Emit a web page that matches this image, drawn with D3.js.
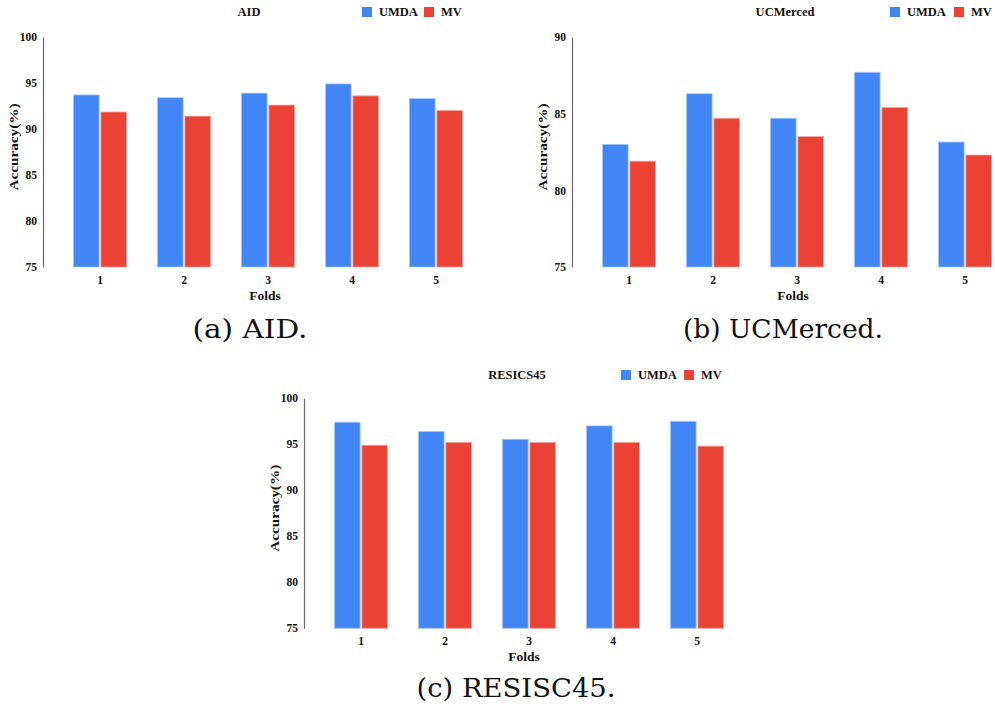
<!DOCTYPE html>
<html>
<head>
<meta charset="utf-8">
<script src="https://cdn.jsdelivr.net/npm/d3@7"></script>
<style>
  body { margin: 0; background: #fff; }
  svg text { font-family: "Liberation Serif", "Times New Roman", serif; }
</style>
</head>
<body>
<svg id="fig" width="995" height="711"></svg>
<script>
// data
var folds = ["1", "2", "3", "4", "5"];
var seriesNames = ["UMDA", "MV"];

var aidUMDA = [93.7, 93.4, 93.9, 94.9, 93.3];
var aidMV   = [91.85, 91.4, 92.6, 93.6, 92.0];

var ucmUMDA = [83.0, 86.3, 84.7, 87.7, 83.15];
var ucmMV   = [81.9, 84.7, 83.5, 85.4, 82.3];

var resUMDA = [97.4, 96.4, 95.55, 97.0, 97.5];
var resMV   = [94.9, 95.2, 95.2, 95.2, 94.8];

var ticksAID = [75, 80, 85, 90, 95, 100];
var ticksUCM = [75, 80, 85, 90];
var ticksRES = [75, 80, 85, 90, 95, 100];

var colors = { UMDA: "#4285f4", MV: "#ea4335" };
var edges  = { UMDA: "#a9c6fa", MV: "#f4a39c" };

var svg = d3.select("#fig");

// one chart panel
function panel(o, umda, mv, ticks) {
    var g = svg.append("g");
    var y = d3.scaleLinear()
        .domain([ticks[0], ticks[ticks.length - 1]])
        .range([o.bottom, o.top]);
    var x = d3.scaleBand().domain(folds).range([o.x0, o.x1]).padding(0);
    var sub = d3.scaleBand().domain(seriesNames)
        .range([15.5, x.bandwidth() - 15.5]).paddingInner(0.064);

    var rows = folds.map(function(f, i){
        return { fold: f, vals: [{ s: "UMDA", v: umda[i] }, { s: "MV", v: mv[i] }] };
    });

    g.selectAll("g.fold")
        .data(rows)
        .enter()
            .append("g")
            .attr("class", "fold")
            .attr("transform", function(d){ return "translate(" + x(d.fold) + ",0)"; })
        .selectAll("rect")
        .data(function(d){ return d.vals; })
        .enter()
            .append("rect")
            .attr("x", function(d){ return sub(d.s); })
            .attr("width", sub.bandwidth())
            .attr("y", function(d){ return y(d.v); })
            .attr("height", function(d){ return y(ticks[0]) - y(d.v); })
            .style("fill", function(d){ return colors[d.s]; })
            .style("stroke", function(d){ return edges[d.s]; })
            .style("stroke-width", 0.8);

    // y axis: just the line and labels
    var ya = g.append("g")
        .attr("transform", "translate(" + o.axisX + ",0)")
        .call(d3.axisLeft(y).tickValues(ticks).tickSize(0).tickPadding(6));
    ya.select(".domain").attr("stroke", "#666").attr("stroke-width", 1.2);
    ya.selectAll("text")
        .style("font-family", "Liberation Serif")
        .style("font-weight", "bold")
        .style("font-size", "11.5px")
        .attr("fill", "#111");

    // x labels
    var xa = g.append("g")
        .attr("transform", "translate(0," + o.bottom + ")")
        .call(d3.axisBottom(x).tickSize(0).tickPadding(9));
    xa.select(".domain").remove();
    xa.selectAll("text")
        .style("font-family", "Liberation Serif")
        .style("font-weight", "bold")
        .style("font-size", "11.5px")
        .attr("fill", "#111");

    g.append("text")
        .attr("x", o.foldsX).attr("y", o.bottom + 33)
        .attr("text-anchor", "middle")
        .style("font-weight", "bold").style("font-size", "13.5px")
        .attr("fill", "#111")
        .text("Folds");

    g.append("text")
        .attr("transform", "translate(" + (o.axisX - 25) + "," + ((o.top + o.bottom) / 2 - 5) + ") rotate(-90)")
        .attr("text-anchor", "middle")
        .attr("textLength", 87).attr("lengthAdjust", "spacingAndGlyphs")
        .style("font-weight", "bold").style("font-size", "13px")
        .attr("fill", "#111")
        .text("Accuracy(%)");

    // title + legend
    g.append("text")
        .attr("x", o.titleX).attr("y", o.titleY)
        .attr("text-anchor", "middle")
        .style("font-weight", "bold").style("font-size", "12.5px")
        .attr("fill", "#111")
        .text(o.title);

    var leg = g.selectAll("g.leg")
        .data(seriesNames)
        .enter()
            .append("g")
            .attr("transform", function(d, i){ return "translate(" + o.legX[i] + "," + (o.titleY - 9) + ")"; });
    leg.append("rect")
        .attr("width", 10).attr("height", 10)
        .style("fill", function(d){ return colors[d]; });
    leg.append("text")
        .attr("x", 17).attr("y", 9)
        .style("font-weight", "bold").style("font-size", "12.5px")
        .attr("fill", "#111")
        .text(function(d){ return d; });

    svg.append("text")
        .attr("x", o.capX).attr("y", o.capY)
        .attr("text-anchor", "middle")
        .attr("textLength", o.capW).attr("lengthAdjust", "spacingAndGlyphs")
        .style("font-family", "'DejaVu Serif', serif")
        .style("font-weight", "normal")
        .style("font-size", "26px")
        .attr("fill", "#111")
        .text(o.caption);
}

panel({ top: 37, bottom: 267, axisX: 43, x0: 58, x1: 478, foldsX: 265,
        title: "AID", titleX: 249, titleY: 16, legX: [362, 424],
        caption: "(a) AID.", capX: 250, capY: 338, capW: 115 },
      aidUMDA, aidMV, ticksAID);

panel({ top: 37, bottom: 267, axisX: 572, x0: 587, x1: 1007, foldsX: 793,
        title: "UCMerced", titleX: 785, titleY: 16, legX: [890, 954],
        caption: "(b) UCMerced.", capX: 783, capY: 338, capW: 200 },
      ucmUMDA, ucmMV, ticksUCM);

panel({ top: 398.3, bottom: 628.3, axisX: 304, x0: 319, x1: 739, foldsX: 524,
        title: "RESICS45", titleX: 517, titleY: 379, legX: [621, 684],
        caption: "(c) RESISC45.", capX: 516, capY: 697, capW: 199 },
      resUMDA, resMV, ticksRES);
</script>
</body>
</html>
